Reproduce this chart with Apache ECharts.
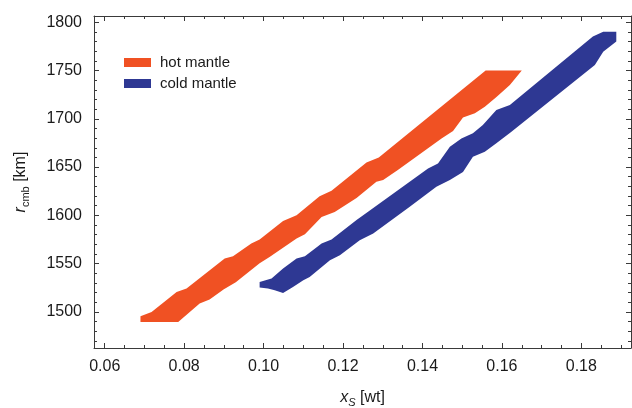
<!DOCTYPE html>
<html>
<head>
<meta charset="utf-8">
<script src="https://cdn.jsdelivr.net/npm/echarts@6/dist/echarts.min.js"></script>
<style>html,body{margin:0;padding:0;background:#fff}#c{width:632px;height:408px}</style>
</head>
<body>
<div id="c"></div>
<script>
// ---- data ----
const seriesNames = ['hot mantle', 'cold mantle'];
const hotUpper = [[0.0690,1495.5],[0.0718,1500.0],[0.0781,1520.7],[0.0806,1524.3],[0.0902,1555.4],[0.0923,1557.7],[0.0969,1570.9],[0.0990,1575.0],[0.1049,1594.3],[0.1083,1600.2],[0.1141,1619.9],[0.1171,1625.4],[0.1259,1654.7],[0.1290,1659.8],[0.1559,1750.0]];
const hotLower = [[0.1650,1750.0],[0.1620,1735.0],[0.1587,1722.9],[0.1557,1712.5],[0.1532,1705.7],[0.1502,1701.3],[0.1477,1687.3],[0.1448,1679.7],[0.1338,1646.9],[0.1301,1636.5],[0.1284,1634.8],[0.1234,1617.9],[0.1179,1603.4],[0.1146,1598.2],[0.1104,1580.5],[0.1083,1576.1],[0.1015,1557.0],[0.0990,1550.5],[0.0930,1530.8],[0.0900,1523.5],[0.0864,1512.9],[0.0839,1508.7],[0.0785,1489.6],[0.0690,1489.6]];
const coldUpper = [[0.0990,1531.1],[0.1020,1534.6],[0.1049,1545.0],[0.1083,1555.4],[0.1104,1557.7],[0.1146,1570.9],[0.1171,1575.0],[0.1234,1595.1],[0.1263,1603.7],[0.1414,1648.6],[0.1439,1653.8],[0.1469,1671.0],[0.1498,1679.7],[0.1527,1684.9],[0.1552,1693.5],[0.1586,1709.1],[0.1620,1714.3],[0.1829,1785.1],[0.1855,1790.2],[0.1888,1790.2]];
const coldLower = [[0.1888,1779.9],[0.1855,1769.5],[0.1834,1755.7],[0.1624,1686.6],[0.1586,1674.6],[0.1557,1665.9],[0.1527,1660.7],[0.1502,1644.8],[0.1469,1636.5],[0.1435,1629.6],[0.1368,1608.8],[0.1276,1581.3],[0.1242,1574.3],[0.1192,1558.8],[0.1167,1553.6],[0.1116,1536.3],[0.1100,1532.9],[0.1074,1525.9],[0.1049,1519.7],[0.1028,1522.5],[0.1011,1524.3],[0.0990,1525.3]];
const xMajorTicks = [0.06, 0.08, 0.10, 0.12, 0.14, 0.16, 0.18];
const xMinorTicks = [0.065,0.07,0.075,0.085,0.09,0.095,0.105,0.11,0.115,0.125,0.13,0.135,0.145,0.15,0.155,0.165,0.17,0.175,0.185,0.19];
const yMajorTicks = [1500, 1550, 1600, 1650, 1700, 1750, 1800];
const yMinorTicks = [1470,1480,1490,1510,1520,1530,1540,1560,1570,1580,1590,1610,1620,1630,1640,1660,1670,1680,1690,1710,1720,1730,1740,1760,1770,1780,1790];
const xRange = [0.0573, 0.1925];
const yRange = [1462.7, 1806.4];

// ---- chart ----
const colors = ['#F05123', '#2E3893'];
const frame = '#3a3a3a';
const txt = '#1a1a1a';
const font = 'Liberation Sans, Arial, Helvetica, sans-serif';

function nameRich(subItalic) {
  return {
    i: { fontSize: 16, fontStyle: 'italic', fontFamily: font, color: txt },
    s: { fontSize: 11, fontStyle: subItalic ? 'italic' : 'normal', fontFamily: font, color: txt, padding: [9, 0, 0, 0] }
  };
}
function xAx(pos, major, labels) {
  return {
    type: 'value', position: pos, min: xRange[0], max: xRange[1],
    axisLine: { show: major, onZero: false, lineStyle: { color: frame, width: 1 } },
    splitLine: { show: false },
    axisTick: { show: true, inside: true, length: major ? 5 : 3, customValues: major ? xMajorTicks : xMinorTicks, lineStyle: { color: frame, width: 1 } },
    axisLabel: labels ? { show: true, customValues: xMajorTicks, margin: 11, fontSize: 16, color: txt, fontFamily: font, formatter: v => v.toFixed(2) } : { show: false },
    name: labels ? '{i|x}{s|S} [wt]' : '',
    nameLocation: 'middle', nameGap: 40,
    nameTextStyle: { fontSize: 16, color: txt, fontFamily: font, rich: nameRich(true) }
  };
}
function yAx(pos, major, labels) {
  return {
    type: 'value', position: pos, min: yRange[0], max: yRange[1],
    axisLine: { show: major, onZero: false, lineStyle: { color: frame, width: 1 } },
    splitLine: { show: false },
    axisTick: { show: true, inside: true, length: major ? 5 : 3, customValues: major ? yMajorTicks : yMinorTicks, lineStyle: { color: frame, width: 1 } },
    axisLabel: labels ? { show: true, customValues: yMajorTicks, margin: 12, fontSize: 16, color: txt, fontFamily: font, formatter: v => String(v) } : { show: false },
    name: labels ? '{i|r}{s|cmb} [km]' : '',
    nameLocation: 'middle', nameGap: 63, nameRotate: 90,
    nameTextStyle: { fontSize: 16, color: txt, fontFamily: font, rich: nameRich(false) }
  };
}

function bandSeries(name, upper, lower, color) {
  const poly = upper.concat(lower);
  return {
    type: 'custom', name: name, xAxisIndex: 0, yAxisIndex: 0,
    itemStyle: { color: color },
    data: poly,
    renderItem: function (params, api) {
      if (params.dataIndex !== 0) return null;
      const pts = poly.map(p => api.coord(p));
      return { type: 'polygon', shape: { points: pts }, style: { fill: color } };
    },
    silent: true, animation: false
  };
}

const chart = echarts.init(document.getElementById('c'), null, { renderer: 'canvas' });
chart.setOption({
  backgroundColor: '#ffffff',
  animation: false,
  grid: { left: 94, right: 1, top: 16, bottom: 60, containLabel: false, outerBoundsMode: 'none' },
  legend: {
    orient: 'vertical', left: 124, top: 55, padding: 0, itemWidth: 27, itemHeight: 9, itemGap: 6,
    data: [{ name: seriesNames[0], icon: 'rect' }, { name: seriesNames[1], icon: 'rect' }],
    textStyle: { fontSize: 15, color: txt, fontFamily: font, padding: [0, 0, 0, 4] }
  },
  xAxis: [xAx('bottom', true, true), xAx('bottom', false, false), xAx('top', true, false), xAx('top', false, false)],
  yAxis: [yAx('left', true, true), yAx('left', false, false), yAx('right', true, false), yAx('right', false, false)],
  series: [bandSeries(seriesNames[0], hotUpper, hotLower, colors[0]), bandSeries(seriesNames[1], coldUpper, coldLower, colors[1])]
});
</script>
</body>
</html>
